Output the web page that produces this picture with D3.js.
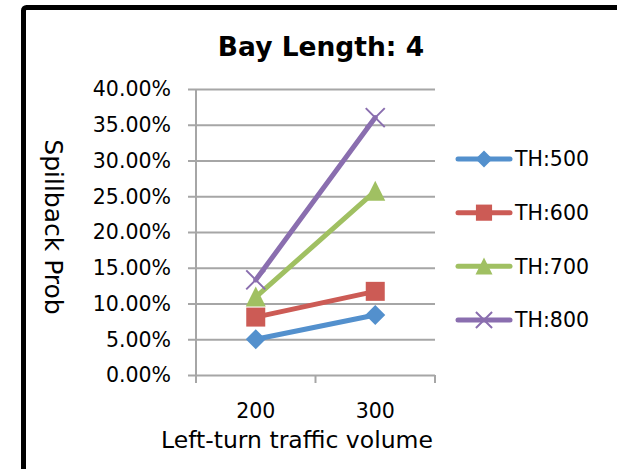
<!DOCTYPE html>
<html>
<head>
<meta charset="utf-8">
<script src="https://cdn.jsdelivr.net/npm/d3@7/dist/d3.min.js"></script>
<style>
  html, body { margin: 0; padding: 0; background: #fff; }
  svg { display: block; }
  text { font-family: "DejaVu Sans", sans-serif; fill: #000; }
</style>
</head>
<body>
<svg id="chart" width="617" height="469"></svg>
<script>
// Chart data
const categories = ["200", "300"];
const seriesNames = ["TH:500", "TH:600", "TH:700", "TH:800"];
const th500 = [0.050, 0.084];
const th600 = [0.081, 0.117];
const th700 = [0.109, 0.257];
const th800 = [0.133, 0.360];
const yTicks = [0, 0.05, 0.10, 0.15, 0.20, 0.25, 0.30, 0.35, 0.40];
const titleText = "Bay Length: 4";
const xTitle = "Left-turn traffic volume";
const yTitle = "Spillback Prob";

const seriesValues = [th500, th600, th700, th800];
const colors = ["#5390CD", "#CC5B55", "#A0C062", "#8A6EAF"];
const markers = ["diamond", "square", "triangle", "cross"];

const svg = d3.select("#chart");

// Outer frame (extends past the right and bottom edges)
svg.append("rect")
  .attr("x", 23.5).attr("y", 7.5)
  .attr("width", 700).attr("height", 600)
  .attr("rx", 3)
  .attr("fill", "none").attr("stroke", "#000").attr("stroke-width", 5);

const plot = { left: 196, right: 435, top: 89, bottom: 375 };

const x = d3.scaleBand().domain(categories).range([plot.left, plot.right]);
const y = d3.scaleLinear().domain([0, 0.4]).range([plot.bottom, plot.top]);

const gridColor = "#a6a6a6";

// Horizontal gridlines with left tick marks
const yAxis = d3.axisLeft(y)
  .tickValues(yTicks)
  .tickSize(-(plot.right - plot.left))
  .tickSizeOuter(0)
  .tickFormat("");
const gy = svg.append("g").attr("transform", `translate(${plot.left},0)`).call(yAxis);
gy.select(".domain").remove();
gy.selectAll(".tick line")
  .attr("x1", -8)
  .attr("stroke", gridColor).attr("stroke-width", 2);

// Y tick labels
svg.append("g").selectAll("text")
  .data(yTicks)
  .join("text")
  .attr("x", 171)
  .attr("y", d => y(d))
  .attr("dy", "0.36em")
  .attr("text-anchor", "end")
  .style("font-size", "20.5px")
  .text(d => d3.format(".2%")(d));

// Vertical axis line
svg.append("line")
  .attr("x1", plot.left).attr("x2", plot.left)
  .attr("y1", plot.top).attr("y2", plot.bottom + 8)
  .attr("stroke", gridColor).attr("stroke-width", 2);

// X axis ticks at category boundaries
const xBounds = categories.map(c => x(c)).concat([x(categories[categories.length - 1]) + x.bandwidth()]);
svg.append("g").selectAll("line")
  .data(xBounds)
  .join("line")
  .attr("x1", d => d).attr("x2", d => d)
  .attr("y1", plot.bottom).attr("y2", plot.bottom + 8)
  .attr("stroke", gridColor).attr("stroke-width", 2);

// X category labels
svg.append("g").selectAll("text")
  .data(categories)
  .join("text")
  .attr("x", d => x(d) + x.bandwidth() / 2)
  .attr("y", 418)
  .attr("text-anchor", "middle")
  .style("font-size", "20.5px")
  .text(d => d);

// Titles
svg.append("text")
  .attr("x", 321).attr("y", 56)
  .attr("text-anchor", "middle")
  .style("font-size", "26.5px").style("font-weight", "bold")
  .text(titleText);

svg.append("text")
  .attr("x", 297).attr("y", 448)
  .attr("text-anchor", "middle")
  .style("font-size", "23.5px")
  .text(xTitle);

svg.append("text")
  .attr("transform", "translate(45,227) rotate(90)")
  .attr("text-anchor", "middle")
  .style("font-size", "25px")
  .text(yTitle);

// Marker drawing
function drawMarker(g, type, cx, cy, size, color) {
  const h = size / 2;
  if (type === "diamond") {
    g.append("path")
      .attr("d", `M${cx},${cy - h}L${cx + h},${cy}L${cx},${cy + h}L${cx - h},${cy}Z`)
      .attr("fill", color);
  } else if (type === "square") {
    g.append("rect")
      .attr("x", cx - h * 0.95).attr("y", cy - h * 0.95)
      .attr("width", size * 0.95).attr("height", size * 0.95)
      .attr("fill", color);
  } else if (type === "triangle") {
    g.append("path")
      .attr("d", `M${cx},${cy - h * 1.05}L${cx + h},${cy + h * 0.95}L${cx - h},${cy + h * 0.95}Z`)
      .attr("fill", color);
  } else {
    const k = h * 0.95;
    g.append("path")
      .attr("d", `M${cx - k},${cy - k}L${cx + k},${cy + k}M${cx - k},${cy + k}L${cx + k},${cy - k}`)
      .attr("stroke", color).attr("stroke-width", 2).attr("fill", "none");
  }
}

// Series lines and markers
const line = d3.line()
  .x((d, i) => x(categories[i]) + x.bandwidth() / 2)
  .y(d => y(d));

const seriesG = svg.append("g");
seriesValues.forEach((vals, si) => {
  seriesG.append("path")
    .attr("d", line(vals))
    .attr("fill", "none")
    .attr("stroke", colors[si])
    .attr("stroke-width", 5)
    .attr("stroke-linecap", "round");
});
seriesValues.forEach((vals, si) => {
  vals.forEach((v, i) => {
    drawMarker(seriesG, markers[si], x(categories[i]) + x.bandwidth() / 2, y(v), 20, colors[si]);
  });
});

// Legend
const legendY = d3.scalePoint().domain(seriesNames).range([159, 320]);
const legend = svg.append("g");
seriesNames.forEach((name, si) => {
  const ly = legendY(name);
  legend.append("line")
    .attr("x1", 458).attr("x2", 510)
    .attr("y1", ly).attr("y2", ly)
    .attr("stroke", colors[si]).attr("stroke-width", 5)
    .attr("stroke-linecap", "round");
  drawMarker(legend, markers[si], 484, ly, 17, colors[si]);
  legend.append("text")
    .attr("x", 515).attr("y", ly)
    .attr("dy", "0.36em")
    .style("font-size", "20.5px")
    .text(name);
});
</script>
</body>
</html>
